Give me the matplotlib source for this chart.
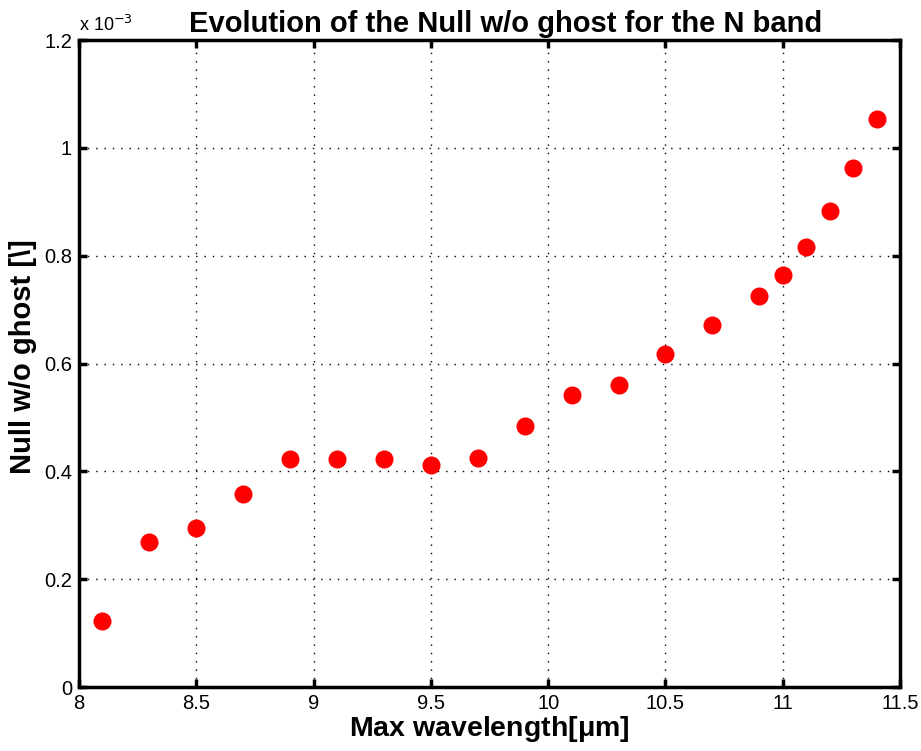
import numpy as np
import matplotlib.pyplot as plt

wavelength = [8.1, 8.3, 8.5, 8.7, 8.9, 9.1, 9.3, 9.5, 9.7, 9.9, 10.1, 10.3,
              10.5, 10.7, 10.9, 11.0, 11.1, 11.2, 11.3, 11.4]
null_vals = [0.123, 0.269, 0.295, 0.358, 0.422, 0.422, 0.422, 0.412, 0.425,
             0.485, 0.542, 0.561, 0.617, 0.671, 0.726, 0.765, 0.817, 0.882,
             0.962, 1.053]  # x 1e-3
xticks = [8, 8.5, 9, 9.5, 10, 10.5, 11, 11.5]
yticks = [0, 0.2, 0.4, 0.6, 0.8, 1, 1.2]

plt.rcParams['font.family'] = ['Liberation Sans', 'DejaVu Sans']

fig = plt.figure(figsize=(9.21, 7.51), dpi=100)
ax = fig.add_axes([0.0858, 0.0852, 0.8914, 0.8615])
ax.plot(wavelength, np.array(null_vals) * 1e-3, 'o', color='red',
        markersize=13, markeredgewidth=0)
ax.set_xlim(8, 11.5)
ax.set_ylim(0, 1.2e-3)
ax.set_xticks(xticks)
ax.set_xticklabels([f'{t:g}' for t in xticks])
ax.set_yticks(np.array(yticks) * 1e-3)
ax.set_yticklabels([f'{t:g}' for t in yticks])
ax.tick_params(direction='in', length=6, width=2.5, labelsize=14.5,
               top=True, right=True, pad=5)
for s in ax.spines.values():
    s.set_linewidth(2.5)
ax.grid(True, color='black', linestyle=(0, (1, 5)), linewidth=1)
ax.text(0.0, 1.008, r'x 10$^{-3}$', transform=ax.transAxes, fontsize=13,
        ha='left', va='bottom')
ax.set_title('Evolution of the Null w/o ghost for the N band',
             fontsize=21, fontweight='bold', pad=6, x=0.52)
ax.set_xlabel(r'Max wavelength[$\mathregular{\mu}$m]', fontsize=20.5,
              fontweight='bold', labelpad=1)
ax.set_ylabel(r'Null w/o ghost [\]', fontsize=21, fontweight='bold')
ax.yaxis.set_label_coords(-0.051, 0.51)
fig.savefig('out.png', dpi=100)
